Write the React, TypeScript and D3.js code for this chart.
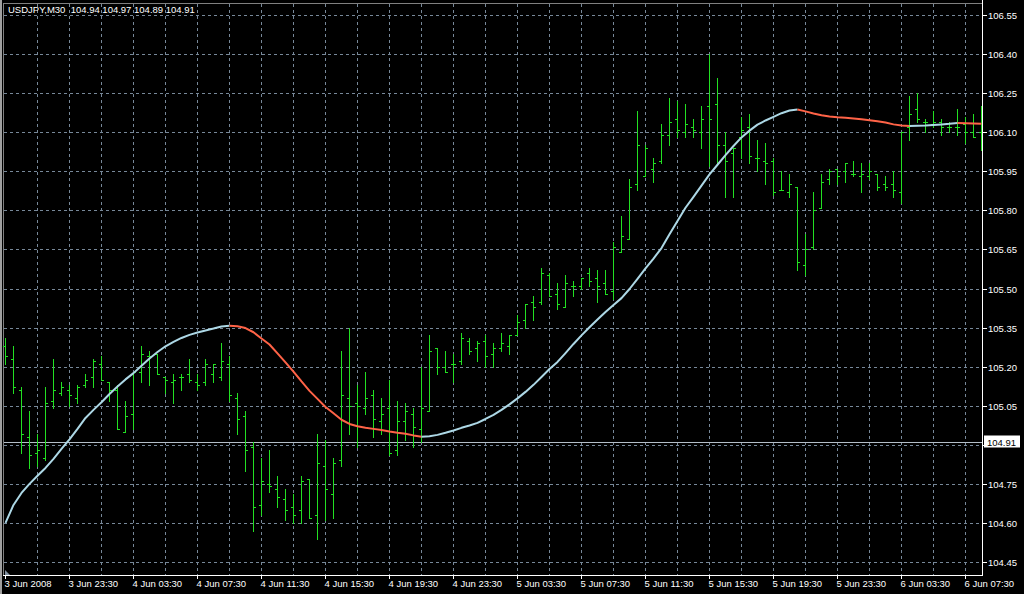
import React from "react";
import * as d3 from "d3";

const TITLE = "USDJPY,M30  104.94 104.97 104.89 104.91";
const LAST_PRICE = 104.91;

const OPEN = [
  105.28, 105.23, 105.11, 104.93, 104.87, 104.85, 105.07, 105.10, 105.11, 105.08,
  105.13, 105.16, 105.21, 105.14, 105.11, 104.95, 105.02, 105.18, 105.24, 105.25,
  105.16, 105.14, 105.16, 105.17, 105.14, 105.14, 105.17, 105.16, 105.21, 105.08,
  105.01, 104.89, 104.67, 104.75, 104.73, 104.69, 104.66, 104.65, 104.77, 104.63,
  104.82, 104.71, 104.84, 105.08, 105.06, 105.04, 105.09, 104.99, 105.04, 104.88,
  104.99, 105.02, 104.96, 105.03, 105.27, 105.20, 105.21, 105.22, 105.30, 105.27,
  105.30, 105.25, 105.27, 105.28, 105.32, 105.38, 105.45, 105.45, 105.55, 105.48,
  105.43, 105.51, 105.51, 105.56, 105.54, 105.52, 105.49, 105.64, 105.69, 105.90,
  105.93, 105.96, 105.99, 106.09, 106.15, 106.10, 106.12, 106.10, 106.20, 106.21,
  106.05, 106.02, 106.08, 106.12, 106.00, 105.99, 105.99, 105.88, 105.87, 105.89,
  105.59, 105.66, 105.81, 105.92, 105.96, 105.95, 105.94, 105.93, 105.93, 105.94,
  105.90, 105.90, 105.87, 106.12, 106.19, 106.14, 106.13, 106.14, 106.12, 106.12,
  106.13, 106.10, 106.10,
];
const HIGH = [
  105.31, 105.28, 105.12, 105.03, 104.94, 105.12, 105.23, 105.14, 105.13, 105.13,
  105.17, 105.23, 105.24, 105.14, 105.13, 105.07, 105.18, 105.28, 105.26, 105.25,
  105.16, 105.17, 105.17, 105.23, 105.17, 105.23, 105.21, 105.29, 105.24, 105.10,
  105.03, 104.91, 104.85, 104.88, 104.78, 104.73, 104.71, 104.78, 104.77, 104.94,
  104.92, 104.85, 105.26, 105.35, 105.13, 105.18, 105.11, 105.08, 105.15, 105.07,
  105.06, 105.04, 105.20, 105.32, 105.27, 105.26, 105.25, 105.33, 105.31, 105.30,
  105.32, 105.29, 105.33, 105.32, 105.40, 105.44, 105.47, 105.58, 105.56, 105.52,
  105.55, 105.53, 105.54, 105.58, 105.57, 105.57, 105.68, 105.78, 105.92, 106.18,
  106.05, 106.00, 106.13, 106.23, 106.22, 106.21, 106.15, 106.20, 106.40, 106.31,
  106.10, 106.04, 106.16, 106.17, 106.07, 106.06, 106.00, 105.95, 105.94, 105.89,
  105.71, 105.87, 105.94, 105.96, 105.96, 105.98, 105.99, 105.98, 105.98, 105.94,
  105.93, 105.95, 106.10, 106.24, 106.25, 106.15, 106.18, 106.15, 106.14, 106.19,
  106.16, 106.17, 106.20,
];
const LOW = [
  105.21, 105.10, 104.87, 104.81, 104.82, 104.84, 105.04, 105.09, 105.05, 105.06,
  105.12, 105.12, 105.15, 105.07, 104.96, 104.95, 104.96, 105.14, 105.13, 105.17,
  105.10, 105.06, 105.11, 105.14, 105.11, 105.13, 105.14, 105.15, 105.07, 104.94,
  104.80, 104.57, 104.63, 104.72, 104.66, 104.61, 104.60, 104.60, 104.62, 104.54,
  104.61, 104.62, 104.82, 104.94, 104.89, 105.02, 104.93, 104.94, 104.86, 104.86,
  104.92, 104.89, 104.91, 105.03, 105.17, 105.18, 105.14, 105.21, 105.25, 105.22,
  105.20, 105.20, 105.26, 105.25, 105.32, 105.35, 105.38, 105.44, 105.47, 105.42,
  105.43, 105.47, 105.50, 105.51, 105.45, 105.48, 105.46, 105.64, 105.69, 105.88,
  105.93, 105.91, 105.98, 106.05, 106.08, 106.08, 106.08, 106.04, 105.97, 105.98,
  105.85, 105.85, 106.00, 105.98, 105.95, 105.90, 105.86, 105.88, 105.85, 105.57,
  105.55, 105.65, 105.81, 105.90, 105.90, 105.91, 105.93, 105.87, 105.92, 105.88,
  105.88, 105.85, 105.83, 106.07, 106.14, 106.10, 106.12, 106.09, 106.10, 106.09,
  106.06, 106.08, 106.03,
];
const CLOSE = [
  105.24, 105.12, 104.94, 104.86, 104.88, 105.06, 105.11, 105.12, 105.09, 105.12,
  105.15, 105.22, 105.15, 105.11, 104.96, 105.01, 105.18, 105.25, 105.24, 105.17,
  105.15, 105.15, 105.16, 105.15, 105.13, 105.21, 105.21, 105.22, 105.09, 105.00,
  104.88, 104.66, 104.76, 104.74, 104.70, 104.65, 104.63, 104.76, 104.62, 104.83,
  104.73, 104.83, 105.09, 105.05, 105.05, 105.08, 105.00, 105.02, 104.87, 104.99,
  105.03, 104.97, 105.04, 105.26, 105.20, 105.18, 105.21, 105.31, 105.26, 105.29,
  105.24, 105.27, 105.29, 105.32, 105.37, 105.44, 105.43, 105.56, 105.47, 105.44,
  105.52, 105.51, 105.54, 105.53, 105.51, 105.48, 105.66, 105.70, 105.89, 106.05,
  106.04, 105.98, 106.09, 106.14, 106.11, 106.13, 106.11, 106.15, 106.15, 106.05,
  105.99, 106.04, 106.11, 106.01, 106.00, 105.98, 105.87, 105.88, 105.90, 105.60,
  105.65, 105.80, 105.91, 105.95, 105.93, 105.98, 105.94, 105.94, 105.95, 105.89,
  105.89, 105.88, 106.10, 106.17, 106.15, 106.14, 106.14, 106.12, 106.12, 106.12,
  106.10, 106.08, 106.10,
];
const MA = [
  104.602, 104.671, 104.717, 104.752, 104.783, 104.813, 104.848, 104.886, 104.923, 104.963,
  105.005, 105.036, 105.065, 105.097, 105.126, 105.153, 105.177, 105.205, 105.233, 105.258,
  105.280, 105.297, 105.312, 105.324, 105.333, 105.341, 105.348, 105.356, 105.359, 105.357,
  105.350, 105.334, 105.310, 105.287, 105.253, 105.218, 105.183, 105.145, 105.109, 105.078,
  105.047, 105.023, 104.998, 104.982, 104.973, 104.967, 104.963, 104.959, 104.953, 104.948,
  104.944, 104.938, 104.933, 104.935, 104.940, 104.948, 104.957, 104.967, 104.976, 104.986,
  105.001, 105.017, 105.036, 105.057, 105.080, 105.105, 105.132, 105.162, 105.193, 105.220,
  105.254, 105.289, 105.322, 105.353, 105.383, 105.412, 105.439, 105.465, 105.500, 105.539,
  105.579, 105.617, 105.657, 105.710, 105.761, 105.812, 105.854, 105.897, 105.940, 105.977,
  106.014, 106.049, 106.082, 106.108, 106.131, 106.147, 106.161, 106.175, 106.185, 106.189,
  106.182, 106.174, 106.167, 106.162, 106.159, 106.157, 106.155, 106.152, 106.148, 106.144,
  106.139, 106.132, 106.128, 106.126, 106.127, 106.128, 106.130, 106.132, 106.134, 106.137,
  106.136, 106.135, 106.134,
];

const TIME_LABELS = [
  "3 Jun 2008", "3 Jun 23:30", "4 Jun 03:30", "4 Jun 07:30", "4 Jun 11:30",
  "4 Jun 15:30", "4 Jun 19:30", "4 Jun 23:30", "5 Jun 03:30", "5 Jun 07:30",
  "5 Jun 11:30", "5 Jun 15:30", "5 Jun 19:30", "5 Jun 23:30", "6 Jun 03:30",
  "6 Jun 07:30",
];
const PRICE_TICKS = [
  "104.45", "104.60", "104.75", "104.90", "105.05", "105.20", "105.35", "105.50",
  "105.65", "105.80", "105.95", "106.10", "106.25", "106.40", "106.55",
];

const UP = "#add8e6";
const DOWN = "#ff6347";
const BAR = "#22e022";
const GRID = "#778899";
const FONT = "'Liberation Sans', Arial, sans-serif";

export default function App() {
  const W = 1024, H = 594;
  const n = CLOSE.length;
  const left = 3, right = 982, top = 3, bottom = 575;
  const x = d3.scaleLinear().domain([0, n - 1]).range([5, 5 + 8 * (n - 1)]);
  const y = d3.scaleLinear().domain([104.45, 106.55]).range([562.5, 15.5]);
  const py = (p: number) => Math.floor(y(p));

  // MA segments grouped by direction
  const segs: { color: string; pts: [number, number][] }[] = [];
  for (let i = 0; i < n - 1; i++) {
    const c = MA[i + 1] >= MA[i] ? UP : DOWN;
    const p0: [number, number] = [x(i) + 0.5, y(MA[i])];
    const p1: [number, number] = [x(i + 1) + 0.5, y(MA[i + 1])];
    const last = segs[segs.length - 1];
    if (last && last.color === c) last.pts.push(p1);
    else segs.push({ color: c, pts: [p0, p1] });
  }
  const line = d3.line<[number, number]>();

  const vGrid: number[] = [];
  for (let j = 1; 5 + 32 * j < right; j++) vGrid.push(5 + 32 * j + 0.5);

  const lastY = py(LAST_PRICE) + 0.5;
  const lastBoxTop = lastY - 7;
  const lastBoxBottom = lastY + 5;
  // axis labels hidden behind the last-price box are not drawn
  const visibleTicks = PRICE_TICKS.filter((t) => {
    const ty = py(+t) + 0.5;
    return ty < lastBoxTop - 3 || ty > lastBoxBottom + 3;
  });

  return (
    <svg width={W} height={H} style={{ position: "absolute", left: 0, top: 0, display: "block" }}>
      <rect x={0} y={0} width={W} height={H} fill="#000" />
      {/* window frame */}
      <rect x={0} y={0} width={2} height={H} fill="#a0a0a0" />
      <line x1={left + 0.5} y1={top} x2={left + 0.5} y2={bottom} stroke="#808080" />
      <line x1={left} y1={top + 0.5} x2={right} y2={top + 0.5} stroke="#808080" />
      {/* grid */}
      {PRICE_TICKS.map((t) => (
        <line key={"h" + t} x1={left + 1} x2={right} y1={py(+t) + 0.5} y2={py(+t) + 0.5}
          stroke={GRID} strokeDasharray="3,3" />
      ))}
      {vGrid.map((gx) => (
        <line key={"v" + gx} x1={gx} x2={gx} y1={top + 1} y2={bottom}
          stroke={GRID} strokeDasharray="3,3" />
      ))}
      {/* current price line */}
      <line x1={left + 1} x2={right} y1={lastY} y2={lastY} stroke="#b4bec8" />
      {/* bars */}
      {CLOSE.map((c, i) => {
        const bx = x(i);
        const yh = py(HIGH[i]), yl = py(LOW[i]);
        return (
          <g key={"b" + i} fill={BAR}>
            <rect x={bx} y={yh} width={1} height={yl - yh + 1} />
            <rect x={bx - 2} y={py(OPEN[i])} width={2} height={1} />
            <rect x={bx + 1} y={py(c)} width={2} height={1} />
          </g>
        );
      })}
      {/* MA */}
      {segs.map((s, i) => (
        <path key={"m" + i} d={line(s.pts) || ""} fill="none" stroke={s.color}
          strokeWidth={2} strokeLinejoin="round" />
      ))}
      {/* frame right/bottom */}
      <line x1={right + 0.5} y1={0} x2={right + 0.5} y2={bottom + 1} stroke="#fff" />
      <line x1={left} y1={bottom + 0.5} x2={right + 1} y2={bottom + 0.5} stroke="#fff" />
      <polygon points={`${5},${570} ${5},${575} ${10},${575}`} fill="#8090a0" />
      {/* price axis */}
      {PRICE_TICKS.map((t) => (
        <line key={"pt" + t} x1={right + 1} x2={right + 5} y1={py(+t) + 0.5} y2={py(+t) + 0.5} stroke="#fff" />
      ))}
      {visibleTicks.map((t) => (
        <text key={"p" + t} x={988} y={py(+t) + 4} fill="#fff" fontSize={9.5} fontFamily={FONT}>{t}</text>
      ))}
      <rect x={984} y={lastBoxTop} width={36} height={12} fill="#fff" />
      <text x={987} y={lastY + 3.5} fill="#000" fontSize={9.5} fontFamily={FONT}>{LAST_PRICE.toFixed(2)}</text>
      {/* time axis */}
      {TIME_LABELS.map((t, i) => {
        const tx = x(i * 8) + 0.5;
        return (
          <g key={"t" + i}>
            <line x1={tx} x2={tx} y1={bottom} y2={bottom + 4} stroke="#fff" />
            <text x={tx - 1} y={587} fill="#fff" fontSize={9.5} fontFamily={FONT}>{t}</text>
          </g>
        );
      })}
      {/* title */}
      <text x={8} y={13} fill="#fff" fontSize={9.5} fontFamily={FONT} xmlSpace="preserve">{TITLE}</text>
    </svg>
  );
}
